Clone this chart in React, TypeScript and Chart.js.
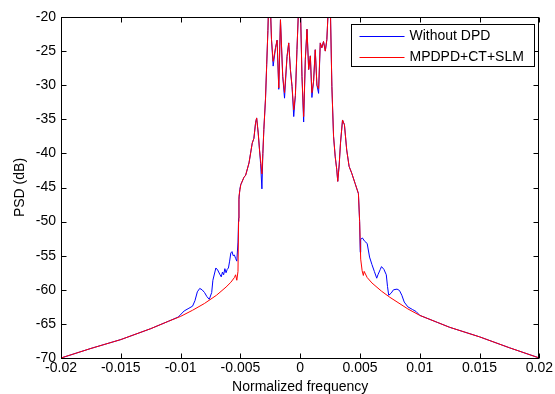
import React, { useEffect, useRef } from "react";
import { Chart, registerables } from "chart.js";

Chart.register(...registerables);

// ---- Data ----
const freqDpd = [
  -0.02, -0.0175, -0.015, -0.0125, -0.011, -0.01, -0.009, -0.008, -0.007, -0.0062,
  -0.0058, -0.0055, -0.0054, -0.0053, -0.0052, -0.00515, -0.00512, -0.00497, -0.0047, -0.00456,
  -0.00428, -0.00401, -0.00387, -0.00373, -0.00364, -0.00351, -0.0034, -0.00331, -0.0032, -0.00312,
  -0.00304, -0.0029, -0.0028, -0.0027, -0.00262, -0.0025, -0.0024, -0.00226, -0.00206, -0.00193,
  -0.00179, -0.00165, -0.00146, -0.00131, -0.0011, -0.00096, -0.00082, -0.00068, -0.00054, -0.0004,
  -0.00027, -0.00012, 0.00002, 0.00015, 0.00029, 0.00043, 0.00057, 0.00071, 0.00085, 0.00098,
  0.00112, 0.00126, 0.0014, 0.00154, 0.00168, 0.00181, 0.00195, 0.0021, 0.00223, 0.00237,
  0.00251, 0.00265, 0.00279, 0.00293, 0.00306, 0.00314, 0.00326, 0.00337, 0.00354, 0.0037,
  0.00389, 0.00409, 0.00431, 0.00459, 0.00487, 0.00497, 0.00506, 0.00518, 0.00528, 0.00535,
  0.0056, 0.006, 0.0068, 0.0075, 0.009, 0.01, 0.0115, 0.0125, 0.015, 0.0175,
  0.02,
];
const psdDpd = [
  -70, -68.6, -67.3, -65.7, -64.6, -63.9, -63.0, -62.0, -60.8, -59.6,
  -58.9, -58.2, -57.8, -58.6, -57.3, -50, -46.3, -44.6, -43.5, -43.2,
  -41.4, -38.5, -37.8, -35.5, -34.8, -37, -39.5, -41, -43, -40,
  -36.5, -32, -27, -22, -17, -18, -23.3, -26.5, -24.5, -23.4,
  -30.4, -20.4, -28.7, -31.1, -25.8, -23.8, -27.7, -30.2, -33.6, -31.5,
  -24.8, -18, -18.5, -28.7, -34.6, -26.2, -21.8, -27.7, -25.7, -31.1,
  -29.4, -24.8, -30, -30.5, -23.8, -24.5, -23.6, -25, -23.3, -18,
  -17.5, -30.2, -37.5, -40.5, -42.4, -44.1, -41.7, -38.5, -35.1, -35.8,
  -39.5, -41.9, -42.9, -44.4, -45.9, -50, -55.5, -57.2, -57.9, -57.3,
  -58.2, -59.0, -60.2, -61.1, -62.8, -63.75, -64.8, -65.5, -66.9, -68.5,
  -70,
];
const freqWithout = [
  -0.02, -0.0175, -0.015, -0.0125, -0.011, -0.0102, -0.0097, -0.0093, -0.009, -0.0088,
  -0.0086, -0.0084, -0.0082, -0.008, -0.0078, -0.0076, -0.0074, -0.0073, -0.00705, -0.0069,
  -0.0067, -0.0066, -0.0065, -0.0064, -0.0063, -0.0062, -0.0061, -0.006, -0.0059, -0.0058,
  -0.0057, -0.0056, -0.0055, -0.0054, -0.0053, -0.0052, -0.00515, -0.00512, -0.00505, -0.00497,
  -0.0047, -0.00456, -0.00428, -0.00401, -0.00387, -0.00373, -0.00364, -0.00351, -0.0034, -0.00331,
  -0.0032, -0.00312, -0.00304, -0.0029, -0.0028, -0.0027, -0.00262, -0.0025, -0.0024, -0.00226,
  -0.00206, -0.00193, -0.00179, -0.00165, -0.00146, -0.00131, -0.0011, -0.00096, -0.00082, -0.00068,
  -0.00054, -0.0004, -0.00027, -0.00012, 0.00002, 0.00015, 0.00029, 0.00043, 0.00057, 0.00071,
  0.00085, 0.00098, 0.00112, 0.00126, 0.0014, 0.00154, 0.00168, 0.00181, 0.00195, 0.0021,
  0.00223, 0.00237, 0.00251, 0.00265, 0.00279, 0.00293, 0.00306, 0.00314, 0.00326, 0.00337,
  0.00354, 0.0037, 0.00389, 0.00409, 0.00431, 0.00459, 0.00487, 0.00497, 0.00502, 0.00506,
  0.0052, 0.0054, 0.0056, 0.0058, 0.006, 0.0062, 0.0064, 0.0065, 0.0067, 0.0068,
  0.007, 0.0072, 0.0073, 0.0074, 0.0076, 0.0078, 0.0081, 0.0083, 0.0085, 0.0087,
  0.009, 0.0094, 0.0097, 0.01, 0.0115, 0.0125, 0.015, 0.0175, 0.02,
];
const psdWithout = [
  -70, -68.6, -67.3, -65.7, -64.6, -64.0, -63.1, -62.7, -62.4, -61.6,
  -60.3, -59.8, -60.0, -60.4, -61.0, -61.4, -60.4, -58.6, -56.8, -57.1,
  -57.8, -58.1, -57.4, -57.8, -56.9, -57.5, -57.0, -56.8, -55.8, -54.6,
  -54.4, -55.0, -54.9, -55.4, -55.8, -53, -49.5, -46.8, -45.3, -44.6,
  -43.5, -43.2, -41.4, -38.5, -37.8, -35.5, -34.8, -37, -39.5, -41.5,
  -45.2, -40, -36.5, -32, -27, -22, -17, -18, -23.3, -27.2,
  -24.5, -23.4, -30.6, -20.4, -28.7, -31.9, -25.8, -23.8, -27.7, -30.2,
  -34.6, -31.5, -24.8, -18, -18.5, -28.7, -35.4, -26.2, -21.8, -27.7,
  -25.7, -31.8, -29.4, -24.8, -30, -31.2, -23.8, -24.5, -23.6, -25,
  -23.3, -18, -17.5, -30.2, -37.5, -40.5, -42.4, -44.1, -41.7, -38.5,
  -35.1, -35.8, -39.5, -41.9, -42.9, -44.4, -45.9, -50, -54.5, -52.6,
  -52.4, -52.9, -53.2, -55.2, -56.3, -57.3, -58.3, -57.8, -57.0, -56.6,
  -57.0, -57.8, -59.5, -60.8, -60.5, -60.0, -59.9, -60.1, -60.8, -61.8,
  -62.5, -62.9, -63.2, -63.75, -64.8, -65.5, -66.9, -68.5, -70,
];

const xTicks = [-0.02, -0.015, -0.01, -0.005, 0, 0.005, 0.01, 0.015, 0.02];
const xTickLabels = ["-0.02", "-0.015", "-0.01", "-0.005", "0", "0.005", "0.01", "0.015", "0.02"];
const yTicks = [-70, -65, -60, -55, -50, -45, -40, -35, -30, -25, -20];
const seriesNames = ["Without DPD", "MPDPD+CT+SLM"];
const seriesColors = ["#0000FF", "#FF0000"];
const xTitle = "Normalized frequency";
const yTitle = "PSD (dB)";

const FONT = "'Liberation Sans', Arial, Helvetica, sans-serif";

const framePlugin = {
  id: "matlabFrame",
  afterDatasetsDraw(chart: any) {
    const { ctx, chartArea: a, scales } = chart;
    ctx.save();
    ctx.strokeStyle = "#000";
    ctx.lineWidth = 1;
    const L = Math.round(a.left) + 0.5;
    const R = Math.round(a.right) - 0.5;
    const T = Math.round(a.top) + 0.5;
    const B = Math.round(a.bottom) + 0.5;
    ctx.strokeRect(L, T, R - L, B - T);
    const tl = 5;
    ctx.beginPath();
    xTicks.forEach((v) => {
      const x = Math.round(scales.x.getPixelForValue(v)) + 0.5;
      ctx.moveTo(x, B);
      ctx.lineTo(x, B - tl);
      ctx.moveTo(x, T);
      ctx.lineTo(x, T + tl);
    });
    yTicks.forEach((v) => {
      const y = Math.round(scales.y.getPixelForValue(v)) + 0.5;
      ctx.moveTo(L, y);
      ctx.lineTo(L + tl, y);
      ctx.moveTo(R, y);
      ctx.lineTo(R - tl, y);
    });
    ctx.stroke();

    // legend box
    const bx = Math.round(a.right - 188) + 0.5;
    const by = Math.round(a.top + 7) + 0.5;
    const bw = 183;
    const bh = 42;
    ctx.fillStyle = "#fff";
    ctx.fillRect(bx, by, bw, bh);
    ctx.strokeStyle = "#000";
    ctx.strokeRect(bx, by, bw, bh);
    ctx.font = `14px ${FONT}`;
    ctx.textBaseline = "middle";
    ctx.textAlign = "left";
    seriesNames.forEach((name, i) => {
      const y = Math.round(by + 11 + i * 21) + 0.5;
      ctx.strokeStyle = seriesColors[i];
      ctx.beginPath();
      ctx.moveTo(bx + 8, y);
      ctx.lineTo(bx + 53, y);
      ctx.stroke();
      ctx.fillStyle = "#000";
      ctx.fillText(name, bx + 58, y);
    });
    ctx.restore();
  },
};

export default function App() {
  const canvasRef = useRef<HTMLCanvasElement | null>(null);

  useEffect(() => {
    const canvas = canvasRef.current;
    if (!canvas) return;
    const chart = new Chart(canvas, {
      type: "line",
      data: {
        datasets: [
          {
            label: seriesNames[1],
            data: freqDpd.map((f, i) => ({ x: f, y: psdDpd[i] })),
            borderColor: seriesColors[1],
            borderWidth: 1,
            pointRadius: 0,
            tension: 0,
            fill: false,
            order: 0,
          },
          {
            label: seriesNames[0],
            data: freqWithout.map((f, i) => ({ x: f, y: psdWithout[i] })),
            borderColor: seriesColors[0],
            borderWidth: 1,
            pointRadius: 0,
            tension: 0,
            fill: false,
            order: 1,
          },
        ],
      },
      options: {
        responsive: false,
        animation: false,
        devicePixelRatio: 1,
        layout: { padding: { top: 17, right: 13, left: 0, bottom: 0 } },
        plugins: {
          legend: { display: false },
          tooltip: { enabled: false },
        },
        scales: {
          x: {
            type: "linear",
            min: -0.02,
            max: 0.02,
            grid: { display: false, drawTicks: false },
            border: { display: false },
            afterBuildTicks: (scale: any) => {
              scale.ticks = xTicks.map((v) => ({ value: v }));
            },
            afterFit: (scale: any) => {
              scale.height = 36;
            },
            ticks: {
              color: "#000",
              padding: 2,
              maxRotation: 0,
              autoSkip: false,
              font: { family: FONT, size: 14 },
              callback: (_v: any, i: number) => xTickLabels[i],
            },
            title: {
              display: true,
              text: xTitle,
              color: "#000",
              font: { family: FONT, size: 14, lineHeight: 1 },
              padding: { top: 0, bottom: 0 },
            },
          },
          y: {
            type: "linear",
            min: -70,
            max: -20,
            grid: { display: false, drawTicks: false },
            border: { display: false },
            afterBuildTicks: (scale: any) => {
              scale.ticks = yTicks.map((v) => ({ value: v }));
            },
            afterFit: (scale: any) => {
              scale.width = 61;
            },
            ticks: {
              color: "#000",
              padding: 5,
              autoSkip: false,
              font: { family: FONT, size: 14 },
              callback: (v: any) => String(v),
            },
            title: {
              display: true,
              text: yTitle,
              color: "#000",
              font: { family: FONT, size: 14, lineHeight: 1 },
              padding: { top: 13, bottom: 0 },
            },
          },
        },
      },
      plugins: [framePlugin],
    });
    return () => chart.destroy();
  }, []);

  return (
    <div style={{ position: "fixed", left: 0, top: 0, width: 555, height: 394, background: "#fff" }}>
      <canvas ref={canvasRef} width={555} height={394} style={{ display: "block" }} />
    </div>
  );
}
